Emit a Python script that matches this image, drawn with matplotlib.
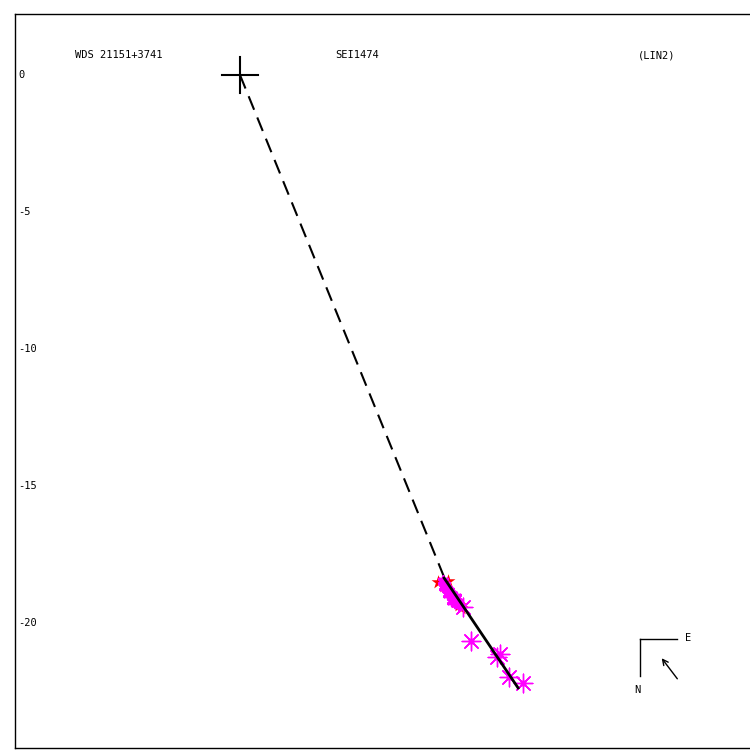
import matplotlib
matplotlib.use("Agg")
import matplotlib.pyplot as plt
from matplotlib.transforms import blended_transform_factory

# scale: 27.4 px per arcsec; origin at pixel (240,75)
title_left = "WDS 21151+3741"
title_mid = "SEI1474"
title_right = "(LIN2)"
ytick_vals = [0, -5, -10, -15, -20]

# magenta asterisks (large)
mag_x = [8.14, 8.43, 9.38, 9.49, 9.82, 10.33]
mag_y = [-19.42, -20.66, -21.24, -21.13, -21.97, -22.19]

# magenta cluster (small)
clu_x = [7.40, 7.50, 7.55, 7.62, 7.70, 7.78, 7.85, 7.92, 8.00, 7.45, 7.60, 7.75, 7.88]
clu_y = [-18.45, -18.60, -18.75, -18.85, -18.95, -19.05, -19.15, -19.25, -19.35, -18.70, -18.95, -19.20, -19.05]

# red markers
red_x = [7.22, 7.60, 7.98, 8.08, 7.45]
red_y = [-18.50, -18.45, -19.35, -19.45, -18.65]

# orbit segment (solid) and dashed connector
orbit_x = [7.45, 10.15]
orbit_y = [-18.36, -22.37]
dash_x = [0.0, 7.52]
dash_y = [0.0, -18.50]

W = 750
fig = plt.figure(figsize=(7.5, 7.5), dpi=100)
ax = fig.add_axes([15 / W, 1 - 748 / W, 735 / W, 734 / W])
s = 27.4
ax.set_xlim((15 - 240) / s, (750 - 240) / s)
ax.set_ylim(-(748 - 75) / s, (75 - 14) / s)
ax.set_xticks([])
ax.set_yticks([])
for sp in ax.spines.values():
    sp.set_linewidth(1.0)
ax.spines['right'].set_visible(False)

ax.plot(dash_x, dash_y, color='black', lw=1.5, ls=(0, (7, 4)))
ax.plot(orbit_x, orbit_y, color='black', lw=2.0, zorder=5)

# cross at primary
cr = 18 / s
ax.plot([-cr, cr], [0, 0], color='black', lw=1.5)
ax.plot([0, 0], [-cr, cr], color='black', lw=1.5)

ax.scatter(red_x, red_y, marker='*', s=110, color='red', zorder=3, linewidths=0)
ax.scatter(clu_x, clu_y, marker=(6, 2, 0), s=40, color='magenta', zorder=4, linewidths=2.5)
ax.scatter(mag_x, mag_y, marker=(8, 2, 0), s=180, color='magenta', zorder=4, linewidths=1.0)
ax.scatter(mag_x, mag_y, marker='o', s=12, color='magenta', zorder=4)

mono = 'DejaVu Sans Mono'
trans_ax = ax.transAxes
def px(x, y):
    return (x - 15) / 735, (748 - y) / 734

ax.text(*px(75, 55), title_left, transform=trans_ax, fontsize=7.5, family=mono, va='center', ha='left')
ax.text(*px(335, 55), title_mid, transform=trans_ax, fontsize=7.5, family=mono, va='center', ha='left')
ax.text(*px(638, 55), title_right, transform=trans_ax, fontsize=7.5, family=mono, va='center', ha='left')

tr = blended_transform_factory(ax.transAxes, ax.transData)
for v in ytick_vals:
    ax.text(3 / 735, v, f"{v}", transform=tr, fontsize=7.5, family=mono, va='center', ha='left')

# compass
ax.plot(*zip(px(640, 639), px(677, 639)), transform=trans_ax, color='black', lw=1)
ax.plot(*zip(px(640, 639), px(640, 676)), transform=trans_ax, color='black', lw=1)
ax.text(*px(688, 638), "E", transform=trans_ax, fontsize=7.5, family=mono, va='center', ha='center')
ax.text(*px(637, 690), "N", transform=trans_ax, fontsize=7.5, family=mono, va='center', ha='center')
ax.annotate("", xy=px(660, 656), xytext=px(679, 681), xycoords=trans_ax, textcoords=trans_ax,
            arrowprops=dict(arrowstyle='->', lw=1, color='black'))

fig.savefig("out.png", dpi=100)
